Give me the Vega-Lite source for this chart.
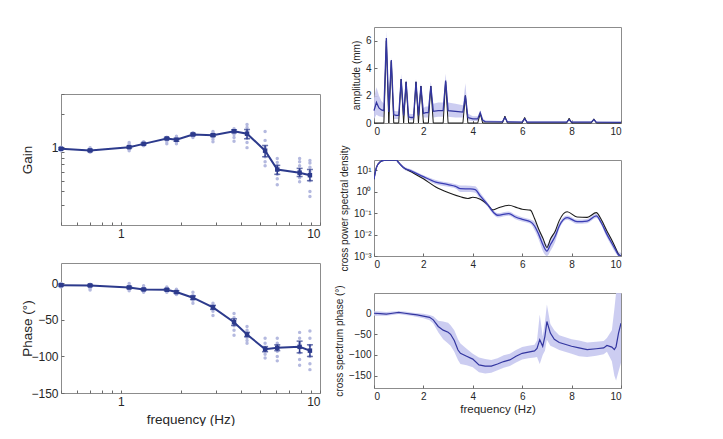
{
  "$schema": "https://vega.github.io/schema/vega-lite/v6.json",
  "padding": {"left": 19, "top": 26, "right": 0, "bottom": 0},
  "background": "white",
  "datasets": {
    "means": [
      {"f": 0.5, "g": 0.968, "glo": 0.95, "ghi": 0.985, "p": -2.3, "plo": -3.5, "phi": -1},
      {"f": 0.7, "g": 0.934, "glo": 0.915, "ghi": 0.955, "p": -2.7, "plo": -4, "phi": -1.5},
      {"f": 1.1, "g": 1.0, "glo": 0.98, "ghi": 1.02, "p": -5.5, "plo": -7, "phi": -4},
      {"f": 1.3, "g": 1.07, "glo": 1.05, "ghi": 1.09, "p": -8.2, "plo": -9.5, "phi": -7},
      {"f": 1.7, "g": 1.196, "glo": 1.17, "ghi": 1.22, "p": -8.6, "plo": -10, "phi": -7.2},
      {"f": 1.9, "g": 1.164, "glo": 1.13, "ghi": 1.2, "p": -11.8, "plo": -13.5, "phi": -10},
      {"f": 2.3, "g": 1.3, "glo": 1.27, "ghi": 1.33, "p": -19.5, "plo": -22, "phi": -17},
      {"f": 2.9, "g": 1.28, "glo": 1.25, "ghi": 1.31, "p": -32.7, "plo": -35.5, "phi": -30},
      {"f": 3.7, "g": 1.39, "glo": 1.35, "ghi": 1.43, "p": -53, "plo": -57.5, "phi": -48.5},
      {"f": 4.3, "g": 1.32, "glo": 1.19, "ghi": 1.44, "p": -70, "plo": -73, "phi": -67},
      {"f": 5.3, "g": 0.93, "glo": 0.82, "ghi": 1.035, "p": -90, "plo": -93.5, "phi": -86.5},
      {"f": 6.1, "g": 0.63, "glo": 0.57, "ghi": 0.686, "p": -88, "plo": -92, "phi": -84},
      {"f": 7.9, "g": 0.59, "glo": 0.545, "ghi": 0.645, "p": -86.8, "plo": -95, "phi": -79},
      {"f": 8.9, "g": 0.56, "glo": 0.5, "ghi": 0.63, "p": -92, "plo": -100, "phi": -84}
    ],
    "gainpts": [
      {"f": 0.5, "g": 0.93}, {"f": 0.5, "g": 0.95}, {"f": 0.5, "g": 0.97}, {"f": 0.5, "g": 0.98}, {"f": 0.5, "g": 1.0},
      {"f": 0.7, "g": 0.9}, {"f": 0.7, "g": 0.92}, {"f": 0.7, "g": 0.94}, {"f": 0.7, "g": 0.96}, {"f": 0.7, "g": 0.99},
      {"f": 1.1, "g": 0.93}, {"f": 1.1, "g": 0.96}, {"f": 1.1, "g": 0.99}, {"f": 1.1, "g": 1.02}, {"f": 1.1, "g": 1.06}, {"f": 1.1, "g": 1.1},
      {"f": 1.3, "g": 1.03}, {"f": 1.3, "g": 1.05}, {"f": 1.3, "g": 1.07}, {"f": 1.3, "g": 1.1}, {"f": 1.3, "g": 1.12},
      {"f": 1.7, "g": 1.07}, {"f": 1.7, "g": 1.12}, {"f": 1.7, "g": 1.17}, {"f": 1.7, "g": 1.2}, {"f": 1.7, "g": 1.23},
      {"f": 1.9, "g": 1.07}, {"f": 1.9, "g": 1.11}, {"f": 1.9, "g": 1.15}, {"f": 1.9, "g": 1.2}, {"f": 1.9, "g": 1.25},
      {"f": 2.3, "g": 1.22}, {"f": 2.3, "g": 1.26}, {"f": 2.3, "g": 1.3}, {"f": 2.3, "g": 1.33}, {"f": 2.3, "g": 1.35},
      {"f": 2.9, "g": 1.12}, {"f": 2.9, "g": 1.18}, {"f": 2.9, "g": 1.25}, {"f": 2.9, "g": 1.3}, {"f": 2.9, "g": 1.34}, {"f": 2.9, "g": 1.38},
      {"f": 3.7, "g": 1.13}, {"f": 3.7, "g": 1.22}, {"f": 3.7, "g": 1.3}, {"f": 3.7, "g": 1.36}, {"f": 3.7, "g": 1.41}, {"f": 3.7, "g": 1.46},
      {"f": 4.3, "g": 0.99}, {"f": 4.3, "g": 1.1}, {"f": 4.3, "g": 1.2}, {"f": 4.3, "g": 1.3}, {"f": 4.3, "g": 1.4}, {"f": 4.3, "g": 1.5}, {"f": 4.3, "g": 1.6},
      {"f": 5.3, "g": 0.68}, {"f": 5.3, "g": 0.74}, {"f": 5.3, "g": 0.82}, {"f": 5.3, "g": 0.9}, {"f": 5.3, "g": 1.0}, {"f": 5.3, "g": 1.15}, {"f": 5.3, "g": 1.38},
      {"f": 6.1, "g": 0.46}, {"f": 6.1, "g": 0.52}, {"f": 6.1, "g": 0.57}, {"f": 6.1, "g": 0.62}, {"f": 6.1, "g": 0.68}, {"f": 6.1, "g": 0.73}, {"f": 6.1, "g": 0.79},
      {"f": 7.9, "g": 0.49}, {"f": 7.9, "g": 0.53}, {"f": 7.9, "g": 0.57}, {"f": 7.9, "g": 0.62}, {"f": 7.9, "g": 0.68}, {"f": 7.9, "g": 0.74}, {"f": 7.9, "g": 0.79},
      {"f": 8.9, "g": 0.36}, {"f": 8.9, "g": 0.4}, {"f": 8.9, "g": 0.5}, {"f": 8.9, "g": 0.55}, {"f": 8.9, "g": 0.6}, {"f": 8.9, "g": 0.66}, {"f": 8.9, "g": 0.72}, {"f": 8.9, "g": 0.76}
    ],
    "phasepts": [
      {"f": 0.5, "p": 0}, {"f": 0.5, "p": -2}, {"f": 0.5, "p": -3}, {"f": 0.5, "p": -4}, {"f": 0.5, "p": -5},
      {"f": 0.7, "p": -1}, {"f": 0.7, "p": -3}, {"f": 0.7, "p": -5}, {"f": 0.7, "p": -7}, {"f": 0.7, "p": -9},
      {"f": 1.1, "p": 0}, {"f": 1.1, "p": -3}, {"f": 1.1, "p": -5}, {"f": 1.1, "p": -7}, {"f": 1.1, "p": -10},
      {"f": 1.3, "p": -3}, {"f": 1.3, "p": -6}, {"f": 1.3, "p": -8}, {"f": 1.3, "p": -10}, {"f": 1.3, "p": -12},
      {"f": 1.7, "p": -5}, {"f": 1.7, "p": -7}, {"f": 1.7, "p": -9}, {"f": 1.7, "p": -11}, {"f": 1.7, "p": -12},
      {"f": 1.9, "p": -8}, {"f": 1.9, "p": -10}, {"f": 1.9, "p": -12}, {"f": 1.9, "p": -14}, {"f": 1.9, "p": -15},
      {"f": 2.3, "p": -12}, {"f": 2.3, "p": -16}, {"f": 2.3, "p": -19}, {"f": 2.3, "p": -23}, {"f": 2.3, "p": -27},
      {"f": 2.9, "p": -27}, {"f": 2.9, "p": -31}, {"f": 2.9, "p": -34}, {"f": 2.9, "p": -38}, {"f": 2.9, "p": -44},
      {"f": 3.7, "p": -41}, {"f": 3.7, "p": -47}, {"f": 3.7, "p": -53}, {"f": 3.7, "p": -58}, {"f": 3.7, "p": -64}, {"f": 3.7, "p": -71},
      {"f": 4.3, "p": -59}, {"f": 4.3, "p": -64}, {"f": 4.3, "p": -69}, {"f": 4.3, "p": -74}, {"f": 4.3, "p": -78}, {"f": 4.3, "p": -82},
      {"f": 5.3, "p": -75}, {"f": 5.3, "p": -82}, {"f": 5.3, "p": -88}, {"f": 5.3, "p": -92}, {"f": 5.3, "p": -97}, {"f": 5.3, "p": -102},
      {"f": 6.1, "p": -75}, {"f": 6.1, "p": -82}, {"f": 6.1, "p": -88}, {"f": 6.1, "p": -93}, {"f": 6.1, "p": -100}, {"f": 6.1, "p": -106},
      {"f": 7.9, "p": -67}, {"f": 7.9, "p": -75}, {"f": 7.9, "p": -82}, {"f": 7.9, "p": -88}, {"f": 7.9, "p": -95}, {"f": 7.9, "p": -104}, {"f": 7.9, "p": -112},
      {"f": 8.9, "p": -65}, {"f": 8.9, "p": -75}, {"f": 8.9, "p": -85}, {"f": 8.9, "p": -92}, {"f": 8.9, "p": -100}, {"f": 8.9, "p": -110}, {"f": 8.9, "p": -118}
    ],
    "amp": [
      {"f": 0.0, "m": 0.9, "lo": 0.3, "hi": 1.8},
      {"f": 0.1, "m": 1.5, "lo": 0.6, "hi": 2.6},
      {"f": 0.2, "m": 1.1, "lo": 0.5, "hi": 2.0},
      {"f": 0.3, "m": 0.95, "lo": 0.45, "hi": 1.6},
      {"f": 0.4, "m": 0.9, "lo": 0.4, "hi": 1.4},
      {"f": 0.5, "m": 6.2, "lo": 5.7, "hi": 6.7},
      {"f": 0.6, "m": 0.8, "lo": 0.35, "hi": 1.2},
      {"f": 0.7, "m": 4.6, "lo": 4.2, "hi": 4.8},
      {"f": 0.8, "m": 0.6, "lo": 0.3, "hi": 0.9},
      {"f": 0.9, "m": 0.55, "lo": 0.3, "hi": 0.85},
      {"f": 1.0, "m": 0.55, "lo": 0.3, "hi": 0.85},
      {"f": 1.1, "m": 3.2, "lo": 2.9, "hi": 3.6},
      {"f": 1.2, "m": 0.55, "lo": 0.3, "hi": 0.85},
      {"f": 1.3, "m": 3.0, "lo": 2.7, "hi": 3.2},
      {"f": 1.4, "m": 0.45, "lo": 0.2, "hi": 0.7},
      {"f": 1.5, "m": 0.4, "lo": 0.2, "hi": 0.65},
      {"f": 1.6, "m": 0.4, "lo": 0.2, "hi": 0.65},
      {"f": 1.7, "m": 3.0, "lo": 2.7, "hi": 3.2},
      {"f": 1.8, "m": 0.55, "lo": 0.3, "hi": 0.9},
      {"f": 1.9, "m": 2.7, "lo": 2.4, "hi": 2.9},
      {"f": 2.0, "m": 0.7, "lo": 0.4, "hi": 1.1},
      {"f": 2.1, "m": 0.75, "lo": 0.4, "hi": 1.2},
      {"f": 2.2, "m": 0.75, "lo": 0.4, "hi": 1.2},
      {"f": 2.3, "m": 2.7, "lo": 2.4, "hi": 3.0},
      {"f": 2.4, "m": 0.85, "lo": 0.4, "hi": 1.4},
      {"f": 2.6, "m": 0.9, "lo": 0.45, "hi": 1.5},
      {"f": 2.8, "m": 0.9, "lo": 0.45, "hi": 1.5},
      {"f": 2.9, "m": 3.1, "lo": 2.7, "hi": 3.6},
      {"f": 3.0, "m": 0.9, "lo": 0.45, "hi": 1.5},
      {"f": 3.3, "m": 0.85, "lo": 0.4, "hi": 1.4},
      {"f": 3.6, "m": 0.8, "lo": 0.4, "hi": 1.3},
      {"f": 3.7, "m": 2.0, "lo": 1.5, "hi": 2.9},
      {"f": 3.8, "m": 0.4, "lo": 0.2, "hi": 0.7},
      {"f": 4.0, "m": 0.3, "lo": 0.15, "hi": 0.5},
      {"f": 4.2, "m": 0.3, "lo": 0.15, "hi": 0.5},
      {"f": 4.3, "m": 0.75, "lo": 0.55, "hi": 0.95},
      {"f": 4.4, "m": 0.2, "lo": 0.1, "hi": 0.35},
      {"f": 4.5, "m": 0.1, "lo": 0.05, "hi": 0.2},
      {"f": 5.2, "m": 0.08, "lo": 0.03, "hi": 0.15},
      {"f": 5.3, "m": 0.4, "lo": 0.3, "hi": 0.55},
      {"f": 5.4, "m": 0.08, "lo": 0.03, "hi": 0.15},
      {"f": 6.0, "m": 0.07, "lo": 0.03, "hi": 0.13},
      {"f": 6.1, "m": 0.3, "lo": 0.2, "hi": 0.45},
      {"f": 6.2, "m": 0.07, "lo": 0.03, "hi": 0.13},
      {"f": 7.8, "m": 0.06, "lo": 0.03, "hi": 0.12},
      {"f": 7.9, "m": 0.25, "lo": 0.15, "hi": 0.35},
      {"f": 8.0, "m": 0.06, "lo": 0.03, "hi": 0.12},
      {"f": 8.8, "m": 0.06, "lo": 0.03, "hi": 0.12},
      {"f": 8.9, "m": 0.25, "lo": 0.15, "hi": 0.35},
      {"f": 9.0, "m": 0.06, "lo": 0.03, "hi": 0.12},
      {"f": 10.0, "m": 0.05, "lo": 0.02, "hi": 0.1}
    ],
    "stim": [
      {"f": 0.0, "s": 0}, {"f": 0.4, "s": 0}, {"f": 0.5, "s": 6.0}, {"f": 0.6, "s": 0}, {"f": 0.7, "s": 4.5}, {"f": 0.8, "s": 0},
      {"f": 1.0, "s": 0}, {"f": 1.1, "s": 3.2}, {"f": 1.2, "s": 0}, {"f": 1.3, "s": 3.0}, {"f": 1.4, "s": 0},
      {"f": 1.6, "s": 0}, {"f": 1.7, "s": 3.0}, {"f": 1.8, "s": 0}, {"f": 1.9, "s": 2.7}, {"f": 2.0, "s": 0},
      {"f": 2.2, "s": 0}, {"f": 2.3, "s": 2.7}, {"f": 2.4, "s": 0}, {"f": 2.8, "s": 0}, {"f": 2.9, "s": 3.0}, {"f": 3.0, "s": 0},
      {"f": 3.6, "s": 0}, {"f": 3.7, "s": 2.0}, {"f": 3.8, "s": 0}, {"f": 4.2, "s": 0}, {"f": 4.3, "s": 0.7}, {"f": 4.4, "s": 0},
      {"f": 5.2, "s": 0}, {"f": 5.3, "s": 0.5}, {"f": 5.4, "s": 0}, {"f": 6.0, "s": 0}, {"f": 6.1, "s": 0.4}, {"f": 6.2, "s": 0},
      {"f": 7.8, "s": 0}, {"f": 7.9, "s": 0.35}, {"f": 8.0, "s": 0}, {"f": 8.8, "s": 0}, {"f": 8.9, "s": 0.3}, {"f": 9.0, "s": 0},
      {"f": 10.0, "s": 0}
    ],
    "cpsd": [
      {"f": 0.0, "m": 3.8, "lo": 3.54, "hi": 4.07},
      {"f": 0.1, "m": 13.5, "lo": 12.6, "hi": 14.5},
      {"f": 0.25, "m": 24.5, "lo": 22.9, "hi": 26.3},
      {"f": 0.4, "m": 28.8, "lo": 26.9, "hi": 29.9},
      {"f": 0.5, "m": 29.5, "lo": 27.5, "hi": 30},
      {"f": 0.9, "m": 29.5, "lo": 27.5, "hi": 30},
      {"f": 1.0, "m": 22.4, "lo": 20.9, "hi": 24.0},
      {"f": 1.2, "m": 13.2, "lo": 11.2, "hi": 15.5},
      {"f": 1.5, "m": 9.33, "lo": 7.94, "hi": 11.0},
      {"f": 2.0, "m": 5.01, "lo": 4.26, "hi": 5.89},
      {"f": 2.5, "m": 2.82, "lo": 2.24, "hi": 3.55},
      {"f": 3.0, "m": 2.14, "lo": 1.7, "hi": 2.69},
      {"f": 3.3, "m": 1.78, "lo": 1.41, "hi": 2.24},
      {"f": 3.5, "m": 1.38, "lo": 0.977, "hi": 1.95},
      {"f": 3.9, "m": 1.35, "lo": 0.955, "hi": 1.91},
      {"f": 4.1, "m": 1.26, "lo": 0.892, "hi": 1.78},
      {"f": 4.3, "m": 0.631, "lo": 0.447, "hi": 0.891},
      {"f": 4.6, "m": 0.251, "lo": 0.199, "hi": 0.316},
      {"f": 4.85, "m": 0.105, "lo": 0.0834, "hi": 0.132},
      {"f": 5.0, "m": 0.0794, "lo": 0.0631, "hi": 0.1},
      {"f": 5.46, "m": 0.0955, "lo": 0.0759, "hi": 0.12},
      {"f": 5.73, "m": 0.066, "lo": 0.0524, "hi": 0.0831},
      {"f": 6.0, "m": 0.0513, "lo": 0.0407, "hi": 0.0646},
      {"f": 6.33, "m": 0.0398, "lo": 0.0316, "hi": 0.0501},
      {"f": 6.5, "m": 0.0251, "lo": 0.0158, "hi": 0.0398},
      {"f": 6.67, "m": 0.0102, "lo": 0.00574, "hi": 0.0181},
      {"f": 6.85, "m": 0.00316, "lo": 0.00158, "hi": 0.0063},
      {"f": 7.0, "m": 0.0017, "lo": 0.001, "hi": 0.0034},
      {"f": 7.15, "m": 0.00355, "lo": 0.00178, "hi": 0.00708},
      {"f": 7.34, "m": 0.0085, "lo": 0.00478, "hi": 0.0151},
      {"f": 7.5, "m": 0.0251, "lo": 0.0178, "hi": 0.0355},
      {"f": 7.82, "m": 0.0617, "lo": 0.049, "hi": 0.0777},
      {"f": 8.22, "m": 0.0398, "lo": 0.0316, "hi": 0.0501},
      {"f": 8.63, "m": 0.0427, "lo": 0.0339, "hi": 0.0538},
      {"f": 9.0, "m": 0.0741, "lo": 0.0589, "hi": 0.0933},
      {"f": 9.2, "m": 0.0355, "lo": 0.0282, "hi": 0.0447},
      {"f": 9.43, "m": 0.0102, "lo": 0.00722, "hi": 0.0144},
      {"f": 9.6, "m": 0.00447, "lo": 0.00316, "hi": 0.00632},
      {"f": 9.77, "m": 0.00204, "lo": 0.00144, "hi": 0.00288},
      {"f": 9.9, "m": 0.00112, "lo": 0.001, "hi": 0.00158},
      {"f": 10.0, "m": 0.001, "lo": 0.001, "hi": 0.0014}
    ],
    "cpsdblack": [
      {"f": 0.0, "v": 3.8}, {"f": 0.1, "v": 13.5}, {"f": 0.25, "v": 24.5}, {"f": 0.4, "v": 28.8}, {"f": 0.5, "v": 29.5},
      {"f": 0.9, "v": 29.5}, {"f": 1.0, "v": 22.4}, {"f": 1.2, "v": 13.2}, {"f": 1.5, "v": 8.5}, {"f": 2.0, "v": 3.98},
      {"f": 2.5, "v": 1.66}, {"f": 3.0, "v": 0.91}, {"f": 3.5, "v": 0.575}, {"f": 3.8, "v": 0.479}, {"f": 4.0, "v": 0.55},
      {"f": 4.3, "v": 0.447}, {"f": 4.6, "v": 0.251}, {"f": 4.8, "v": 0.141}, {"f": 5.0, "v": 0.17}, {"f": 5.46, "v": 0.234},
      {"f": 5.8, "v": 0.178}, {"f": 6.0, "v": 0.151}, {"f": 6.33, "v": 0.138}, {"f": 6.5, "v": 0.056}, {"f": 6.67, "v": 0.0178},
      {"f": 6.85, "v": 0.0063}, {"f": 7.0, "v": 0.00251}, {"f": 7.15, "v": 0.0063}, {"f": 7.34, "v": 0.0148}, {"f": 7.5, "v": 0.0447},
      {"f": 7.82, "v": 0.115}, {"f": 8.22, "v": 0.066}, {"f": 8.63, "v": 0.063}, {"f": 9.0, "v": 0.105}, {"f": 9.2, "v": 0.05},
      {"f": 9.43, "v": 0.0148}, {"f": 9.6, "v": 0.0063}, {"f": 9.77, "v": 0.00251}, {"f": 9.9, "v": 0.0012}, {"f": 10.0, "v": 0.001}
    ],
    "cphase": [
      {"f": 0.0, "m": 1, "lo": -5, "hi": 6},
      {"f": 0.25, "m": 0, "lo": -5, "hi": 5},
      {"f": 0.5, "m": -1, "lo": -5, "hi": 4},
      {"f": 0.75, "m": 1, "lo": -3, "hi": 5},
      {"f": 1.0, "m": 3, "lo": -1, "hi": 6},
      {"f": 1.25, "m": 1, "lo": -3, "hi": 5},
      {"f": 1.5, "m": -1, "lo": -5, "hi": 3},
      {"f": 1.75, "m": -3, "lo": -8, "hi": 1},
      {"f": 2.0, "m": -6, "lo": -11, "hi": 0},
      {"f": 2.25, "m": -9, "lo": -16, "hi": -3},
      {"f": 2.4, "m": -15, "lo": -24, "hi": -6},
      {"f": 2.6, "m": -31, "lo": -45, "hi": -17},
      {"f": 2.8, "m": -40, "lo": -62, "hi": -19},
      {"f": 3.0, "m": -45, "lo": -72, "hi": -22},
      {"f": 3.1, "m": -50, "lo": -78, "hi": -28},
      {"f": 3.25, "m": -65, "lo": -92, "hi": -40},
      {"f": 3.4, "m": -88, "lo": -112, "hi": -62},
      {"f": 3.5, "m": -96, "lo": -122, "hi": -72},
      {"f": 3.75, "m": -103, "lo": -125, "hi": -85},
      {"f": 4.0, "m": -110, "lo": -130, "hi": -97},
      {"f": 4.25, "m": -124, "lo": -142, "hi": -106},
      {"f": 4.5, "m": -127, "lo": -145, "hi": -110},
      {"f": 4.75, "m": -127, "lo": -143, "hi": -112},
      {"f": 5.0, "m": -122, "lo": -137, "hi": -108},
      {"f": 5.25, "m": -116, "lo": -131, "hi": -101},
      {"f": 5.5, "m": -112, "lo": -127, "hi": -97},
      {"f": 5.75, "m": -103, "lo": -118, "hi": -88},
      {"f": 6.0, "m": -96, "lo": -111, "hi": -81},
      {"f": 6.25, "m": -93, "lo": -108, "hi": -78},
      {"f": 6.5, "m": -90, "lo": -106, "hi": -75},
      {"f": 6.6, "m": -84, "lo": -105, "hi": -65},
      {"f": 6.71, "m": -63, "lo": -122, "hi": -2},
      {"f": 6.83, "m": -79, "lo": -100, "hi": -55},
      {"f": 6.92, "m": -55, "lo": -90, "hi": -20},
      {"f": 7.0, "m": -19, "lo": -63, "hi": 22},
      {"f": 7.14, "m": -47, "lo": -78, "hi": -25},
      {"f": 7.3, "m": -62, "lo": -82, "hi": -40},
      {"f": 7.5, "m": -70, "lo": -88, "hi": -52},
      {"f": 8.0, "m": -79, "lo": -97, "hi": -62},
      {"f": 8.3, "m": -83, "lo": -103, "hi": -65},
      {"f": 8.63, "m": -87, "lo": -105, "hi": -70},
      {"f": 9.0, "m": -85, "lo": -102, "hi": -68},
      {"f": 9.3, "m": -83, "lo": -98, "hi": -66},
      {"f": 9.43, "m": -77, "lo": -92, "hi": -59},
      {"f": 9.63, "m": -81, "lo": -115, "hi": -40},
      {"f": 9.73, "m": -87, "lo": -150, "hi": 10},
      {"f": 9.8, "m": -80, "lo": -162, "hi": 50},
      {"f": 9.9, "m": -47, "lo": -140, "hi": 50},
      {"f": 10.0, "m": -23, "lo": -119, "hi": 50}
    ]
  },
  "spacing": 12,
  "hconcat": [
    {
      "spacing": 38,
      "bounds": "flush",
      "vconcat": [
        {
          "width": 259, "height": 29,
          "view": {"stroke": null},
          "data": {"values": [{}]},
          "mark": {"type": "text", "text": ""},
          "encoding": {}
        },
        {
          "width": 259, "height": 131,
          "data": {"name": "gainpts"},
          "layer": [
            {
              "mark": {"type": "circle", "size": 12, "color": "#b4b9df", "opacity": 1},
              "encoding": {
                "x": {"field": "f", "type": "quantitative", "title": "frequency (Hz)", "scale": {"type": "log", "domain": [0.5, 10], "nice": false},
                      "axis": {"title": null, "tickCount": 30, "values": [0.5, 0.6, 0.7, 0.8, 0.9, 1, 2, 3, 4, 5, 6, 7, 8, 9, 10], "labelExpr": "datum.value == 1 ? '1' : datum.value == 10 ? '10' : ''", "labelFontSize": 12}},
                "y": {"field": "g", "type": "quantitative", "title": "Gain", "scale": {"type": "log", "domain": [0.2, 3], "nice": false},
                      "axis": {"title": "Gain", "titleX": -27, "titleFontSize": 13.5, "tickCount": 30, "values": [0.3, 0.4, 0.5, 0.6, 0.7, 0.8, 0.9, 1, 2, 3], "labelExpr": "datum.value == 1 ? '1' : ''", "labelFontSize": 12}}
              }
            },
            {
              "data": {"name": "means"},
              "mark": {"type": "line", "color": "#2c3a8c", "strokeWidth": 2},
              "encoding": {
                "x": {"field": "f", "type": "quantitative", "title": "frequency (Hz)"},
                "y": {"field": "g", "type": "quantitative", "title": "Gain"}
              }
            },
            {
              "data": {"name": "means"},
              "mark": {"type": "errorbar", "ticks": {"size": 6}, "color": "#2c3a8c", "thickness": 1.5},
              "encoding": {
                "x": {"field": "f", "type": "quantitative", "title": "frequency (Hz)"},
                "y": {"field": "glo", "type": "quantitative", "title": "Gain"},
                "y2": {"field": "ghi"}
              }
            },
            {
              "data": {"name": "means"},
              "mark": {"type": "square", "size": 20, "color": "#2c3a8c", "opacity": 1},
              "encoding": {
                "x": {"field": "f", "type": "quantitative", "title": "frequency (Hz)"},
                "y": {"field": "g", "type": "quantitative", "title": "Gain"}
              }
            }
          ]
        },
        {
          "width": 259, "height": 130,
          "data": {"name": "phasepts"},
          "layer": [
            {
              "mark": {"type": "circle", "size": 12, "color": "#b4b9df", "opacity": 1},
              "encoding": {
                "x": {"field": "f", "type": "quantitative", "title": "frequency (Hz)", "scale": {"type": "log", "domain": [0.5, 10], "nice": false},
                      "axis": {"title": "frequency (Hz)", "titleFontSize": 13.5, "titlePadding": 5, "tickCount": 30, "values": [0.5, 0.6, 0.7, 0.8, 0.9, 1, 2, 3, 4, 5, 6, 7, 8, 9, 10], "labelExpr": "datum.value == 1 ? '1' : datum.value == 10 ? '10' : ''", "labelFontSize": 12}},
                "y": {"field": "p", "type": "quantitative", "title": "Phase (°)", "scale": {"domain": [-150, 28], "nice": false},
                      "axis": {"title": "Phase (°)", "titleX": -27, "titleFontSize": 13.5, "tickCount": 30, "format": "d", "values": [-150, -100, -50, 0], "labelFontSize": 12}}
              }
            },
            {
              "data": {"name": "means"},
              "mark": {"type": "line", "color": "#2c3a8c", "strokeWidth": 2},
              "encoding": {
                "x": {"field": "f", "type": "quantitative", "title": "frequency (Hz)"},
                "y": {"field": "p", "type": "quantitative", "title": "Phase (°)"}
              }
            },
            {
              "data": {"name": "means"},
              "mark": {"type": "errorbar", "ticks": {"size": 6}, "color": "#2c3a8c", "thickness": 1.5},
              "encoding": {
                "x": {"field": "f", "type": "quantitative", "title": "frequency (Hz)"},
                "y": {"field": "plo", "type": "quantitative", "title": "Phase (°)"},
                "y2": {"field": "phi"}
              }
            },
            {
              "data": {"name": "means"},
              "mark": {"type": "square", "size": 20, "color": "#2c3a8c", "opacity": 1},
              "encoding": {
                "x": {"field": "f", "type": "quantitative", "title": "frequency (Hz)"},
                "y": {"field": "p", "type": "quantitative", "title": "Phase (°)"}
              }
            }
          ]
        }
      ]
    },
    {
      "spacing": 37,
      "bounds": "flush",
      "vconcat": [
        {
          "width": 247, "height": 96,
          "layer": [
            {
              "data": {"name": "amp"},
              "mark": {"type": "area", "color": "#c6c8f0", "opacity": 0.9},
              "encoding": {
                "x": {"field": "f", "type": "quantitative", "scale": {"domain": [0, 10], "nice": false},
                      "axis": {"title": null, "tickCount": 30, "format": "d", "values": [0, 2, 4, 6, 8, 10]}},
                "y": {"field": "lo", "type": "quantitative", "scale": {"domain": [0, 7], "nice": false},
                      "axis": {"title": "amplitude (mm)", "tickCount": 30, "format": "d", "values": [0, 2, 4, 6]}},
                "y2": {"field": "hi"}
              }
            },
            {
              "data": {"name": "stim"},
              "mark": {"type": "line", "color": "#1a1a1a", "strokeWidth": 1},
              "encoding": {
                "x": {"field": "f", "type": "quantitative"},
                "y": {"field": "s", "type": "quantitative"}
              }
            },
            {
              "data": {"name": "amp"},
              "mark": {"type": "line", "color": "#3336a0", "strokeWidth": 1.3},
              "encoding": {
                "x": {"field": "f", "type": "quantitative"},
                "y": {"field": "m", "type": "quantitative"}
              }
            }
          ]
        },
        {
          "width": 247, "height": 96,
          "layer": [
            {
              "data": {"name": "cpsd"},
              "mark": {"type": "area", "color": "#c6c8f0", "opacity": 0.9, "interpolate": "monotone", "clip": true},
              "encoding": {
                "x": {"field": "f", "type": "quantitative", "scale": {"domain": [0, 10], "nice": false},
                      "axis": {"title": null, "tickCount": 30, "format": "d", "values": [0, 2, 4, 6, 8, 10]}},
                "y": {"field": "lo", "type": "quantitative", "scale": {"type": "log", "domain": [0.001, 30], "nice": false},
                      "axis": {"title": "cross power spectral density", "tickCount": 30, "values": [0.001, 0.01, 0.1, 1, 10], "labelExpr": "datum.value == 10 ? '10¹' : datum.value == 1 ? '10⁰' : datum.value == 0.1 ? '10⁻¹' : datum.value == 0.01 ? '10⁻²' : '10⁻³'"}},
                "y2": {"field": "hi"}
              }
            },
            {
              "data": {"name": "cpsdblack"},
              "mark": {"type": "line", "color": "#1a1a1a", "strokeWidth": 1.1, "interpolate": "monotone", "clip": true},
              "encoding": {
                "x": {"field": "f", "type": "quantitative"},
                "y": {"field": "v", "type": "quantitative"}
              }
            },
            {
              "data": {"name": "cpsd"},
              "mark": {"type": "line", "color": "#3a3db4", "strokeWidth": 1.3, "interpolate": "monotone", "clip": true},
              "encoding": {
                "x": {"field": "f", "type": "quantitative"},
                "y": {"field": "m", "type": "quantitative"}
              }
            }
          ]
        },
        {
          "width": 247, "height": 95,
          "data": {"name": "cphase"},
          "layer": [
            {
              "mark": {"type": "area", "color": "#c6c8f0", "opacity": 0.9, "clip": true},
              "encoding": {
                "x": {"field": "f", "type": "quantitative", "scale": {"domain": [0, 10], "nice": false},
                      "axis": {"title": "frequency (Hz)", "titleFontSize": 11.5, "titlePadding": 2, "tickCount": 30, "format": "d", "values": [0, 2, 4, 6, 8, 10]}},
                "y": {"field": "lo", "type": "quantitative", "scale": {"domain": [-180, 50], "nice": false},
                      "axis": {"title": "cross spectrum phase (°)", "tickCount": 30, "format": "d", "values": [-150, -100, -50, 0]}},
                "y2": {"field": "hi"}
              }
            },
            {
              "mark": {"type": "line", "color": "#3336a0", "strokeWidth": 1.2, "clip": true},
              "encoding": {
                "x": {"field": "f", "type": "quantitative"},
                "y": {"field": "m", "type": "quantitative"}
              }
            }
          ]
        }
      ]
    }
  ],
  "config": {
    "font": "Liberation Sans",
    "view": {"stroke": "#8c8c8c"},
    "axis": {
      "domain": false,
      "grid": false,
      "tickColor": "#6a6a6a",
      "tickSize": -3,
      "labelPadding": 6,
      "labelOverlap": false,
      "labelFontSize": 10,
      "titleFontSize": 10,
      "labelColor": "#262626",
      "titleColor": "#262626",
      "labelFont": "Liberation Sans",
      "titleFont": "Liberation Sans",
      "titleFontWeight": "normal",
      "titlePadding": 4
    }
  }
}
